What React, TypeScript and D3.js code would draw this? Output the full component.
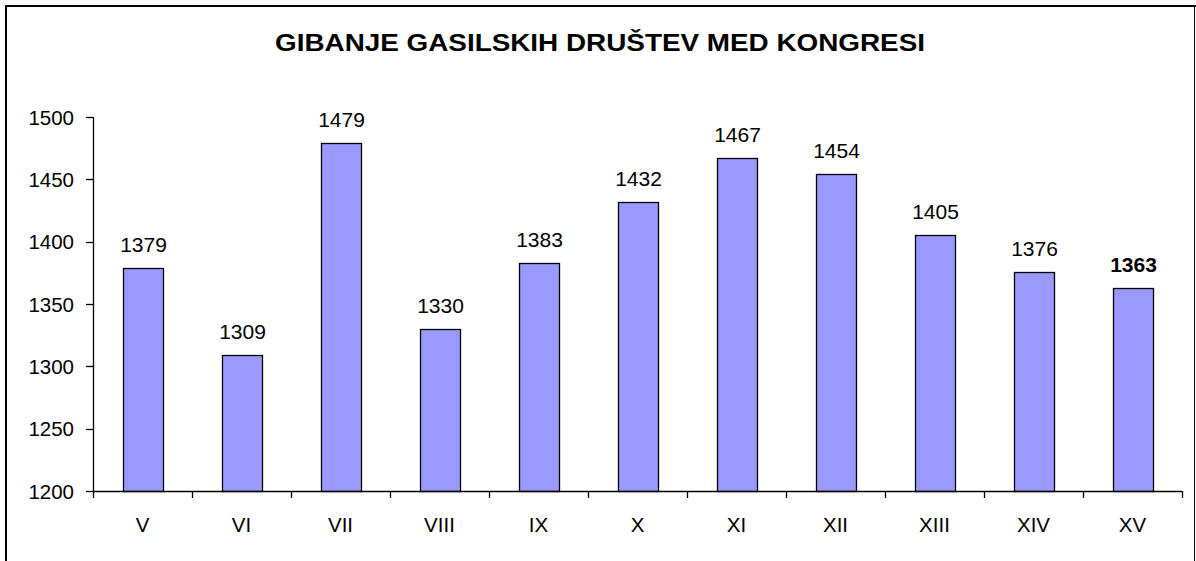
import React from "react";
import * as d3 from "d3";

const title = "GIBANJE GASILSKIH DRUŠTEV MED KONGRESI";
const categories = ["V", "VI", "VII", "VIII", "IX", "X", "XI", "XII", "XIII", "XIV", "XV"];
const values = [1379, 1309, 1479, 1330, 1383, 1432, 1467, 1454, 1405, 1376, 1363];
const yTicks = [1200, 1250, 1300, 1350, 1400, 1450, 1500];

const W = 1196;
const H = 561;
const left = 93;
const right = 1182;
const top = 117;
const bottom = 491;
const FONT = "Liberation Sans, Arial, sans-serif";

export default function App() {
  const x = d3.scaleBand<string>().domain(categories).range([left, right]).paddingInner(0.6).paddingOuter(0.3);
  const y = d3.scaleLinear().domain([1200, 1500]).range([bottom, top]);
  const step = x.step();
  const catEdges = d3.range(categories.length + 1).map((i) => left + i * step);

  return (
    <svg
      width={W}
      height={H}
      style={{ position: "absolute", left: 0, top: 0, background: "#fff" }}
      fontFamily={FONT}
    >
      <rect x={0} y={0} width={W} height={H} fill="#fff" />
      {/* outer frame */}
      <line x1={6} y1={6} x2={6} y2={H} stroke="#000" strokeWidth={2} />
      <line x1={5} y1={6} x2={W} y2={6} stroke="#000" strokeWidth={2} />
      <line x1={1194.5} y1={6} x2={1194.5} y2={H} stroke="#000" strokeWidth={1} />

      <text
        x={275}
        y={51}
        fontSize={24.5}
        fontWeight="bold"
        fill="#000"
        textLength={650}
        lengthAdjust="spacingAndGlyphs"
      >
        {title}
      </text>

      {/* bars */}
      {values.map((v, i) => {
        const bx = x(categories[i])!;
        const by = y(v);
        return (
          <g key={categories[i]}>
            <rect
              x={Math.round(bx) + 0.5}
              y={Math.round(by) + 0.5}
              width={Math.round(x.bandwidth())}
              height={bottom - Math.round(by)}
              fill="#9999FF"
              stroke="#000"
              strokeWidth={1.3}
            />
            <text
              x={bx + x.bandwidth() / 2 + 1}
              y={by - 16}
              textAnchor="middle"
              fontSize={21}
              fontWeight={i === values.length - 1 ? "bold" : "normal"}
              fill="#000"
            >
              {v}
            </text>
          </g>
        );
      })}

      {/* y axis */}
      <line x1={left + 0.5} y1={top} x2={left + 0.5} y2={bottom} stroke="#000" strokeWidth={1.3} />
      {yTicks.map((t) => (
        <g key={t}>
          <line x1={left - 7} y1={Math.round(y(t)) + 0.5} x2={left} y2={Math.round(y(t)) + 0.5} stroke="#000" strokeWidth={1.3} />
          <text x={left - 19} y={y(t) + 7.5} textAnchor="end" fontSize={20.5} fill="#000">
            {t}
          </text>
        </g>
      ))}

      {/* x axis */}
      <line x1={left} y1={bottom + 0.5} x2={right} y2={bottom + 0.5} stroke="#000" strokeWidth={1.3} />
      {catEdges.map((ex, i) => (
        <line key={i} x1={Math.round(ex) + 0.5} y1={bottom} x2={Math.round(ex) + 0.5} y2={bottom + 7} stroke="#000" strokeWidth={1.3} />
      ))}
      {categories.map((c) => (
        <text key={c} x={x(c)! + x.bandwidth() / 2} y={532} textAnchor="middle" fontSize={20.5} fill="#000">
          {c}
        </text>
      ))}
    </svg>
  );
}
